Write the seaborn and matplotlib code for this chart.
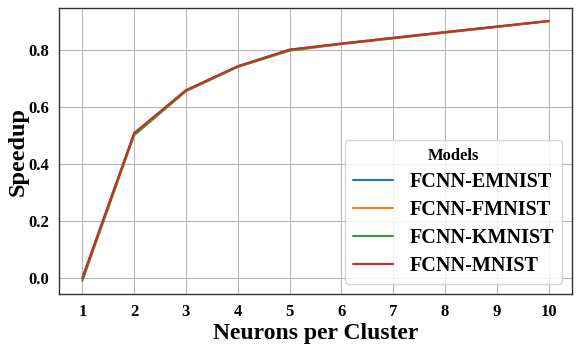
import numpy as np
import pandas as pd
import matplotlib
matplotlib.use("Agg")
import matplotlib.pyplot as plt
import seaborn as sns

neurons = [1, 2, 3, 4, 5, 6, 7, 8, 9, 10]
models = ["FCNN-EMNIST", "FCNN-FMNIST", "FCNN-KMNIST", "FCNN-MNIST"]
speedup_emnist = [0.0, 0.505, 0.657, 0.741, 0.799, 0.821, 0.841, 0.861, 0.880, 0.900]
speedup_fmnist = [0.0, 0.505, 0.657, 0.741, 0.799, 0.821, 0.841, 0.861, 0.880, 0.900]
speedup_kmnist = [-0.01, 0.500, 0.654, 0.739, 0.796, 0.819, 0.839, 0.859, 0.879, 0.899]
speedup_mnist = [0.0, 0.508, 0.658, 0.742, 0.800, 0.821, 0.841, 0.861, 0.881, 0.900]

series = [speedup_emnist, speedup_fmnist, speedup_kmnist, speedup_mnist]
df = pd.DataFrame({
    "Neurons per Cluster": neurons * len(models),
    "Speedup": [v for s in series for v in s],
    "Models": [m for m in models for _ in neurons],
})

sns.set_style("whitegrid", {"axes.edgecolor": "#333333", "grid.color": "#b8b8b8",
                            "text.color": "black", "axes.labelcolor": "black",
                            "xtick.color": "black", "ytick.color": "black"})
plt.rcParams["font.family"] = ["Liberation Serif", "DejaVu Serif"]
plt.rcParams["font.weight"] = "bold"

fig = plt.figure(figsize=(5.8, 3.48), dpi=100)
ax = fig.add_axes([59 / 580, 1 - 294 / 348, (572 - 59) / 580, (294 - 8) / 348])
sns.lineplot(data=df, x="Neurons per Cluster", y="Speedup", hue="Models",
             palette="tab10", linewidth=1.5, ax=ax)

ax.set_xticks(neurons)
ax.set_xlabel("Neurons per Cluster", fontsize=17, fontweight="bold", labelpad=2)
ax.set_ylabel("Speedup", fontsize=17.5, fontweight="bold", labelpad=0)
ax.tick_params(labelsize=12)
for lbl in ax.get_xticklabels() + ax.get_yticklabels():
    lbl.set_fontweight("bold")
for sp in ax.spines.values():
    sp.set_linewidth(1.0)

leg = ax.legend(title="Models", loc="lower right", fontsize=14.5,
                title_fontsize=12, labelspacing=0.4, handlelength=2.0)
leg.get_title().set_fontweight("bold")
for t in leg.get_texts():
    t.set_fontweight("bold")

fig.savefig("out.png", dpi=100)
